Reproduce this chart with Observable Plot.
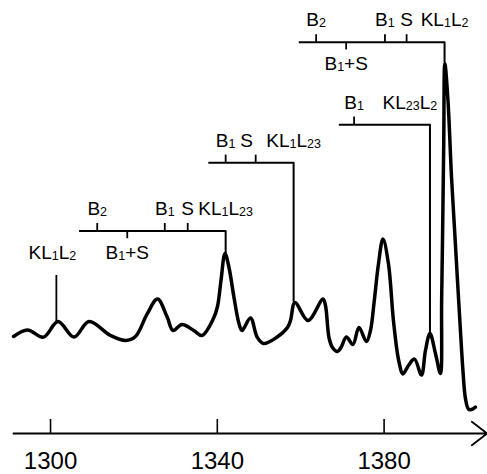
<!DOCTYPE html>
<html><head><meta charset="utf-8">
<script src="https://cdn.jsdelivr.net/npm/d3@7"></script>
<script src="https://cdn.jsdelivr.net/npm/@observablehq/plot@0.6"></script>
<style>
html,body{margin:0;padding:0;background:#fff;}
svg{display:block;}
</style>
</head><body>
<div id="chart"></div>
<script>
// Spectrum trace (x: position, y: intensity in arbitrary units)
const wavenumber = [1291.12,1294.47,1298.31,1301.79,1305.63,1309.22,1314.38,1317.98,1320.37,1323.18,1325.65,1327.98,1329.37,1331.53,1334.35,1336.32,1339.08,1340.04,1340.88,1341.84,1342.80,1344.00,1345.19,1345.91,1347.95,1349.56,1351.07,1354.19,1356.83,1357.55,1358.62,1361.74,1365.34,1365.94,1366.78,1367.62,1368.82,1369.65,1370.97,1372.53,1373.97,1375.77,1376.73,1377.57,1378.65,1379.73,1381.05,1382.24,1383.50,1384.52,1385.84,1387.28,1388.96,1389.92,1391.00,1392.32,1393.51,1393.80,1394.07,1394.31,1394.57,1395.32,1396.15,1396.87,1397.59,1398.31,1398.91,1399.51,1400.23,1400.95,1401.91];
const intensity  = [24.25,25.9,24.1,28.0,24.1,28.0,24.5,23.25,24.25,29.9,33.6,29.1,25.75,27.25,25.75,24.5,28.75,31.75,38.25,45.0,41.5,34.0,27.5,25.75,28.9,24.1,22.5,24.0,26.5,28.25,32.75,28.25,33.6,32.0,24.0,21.5,20.5,21.5,24.1,22.25,26.5,23.0,25.75,32.5,42.4,48.6,42.4,28.25,18.25,14.9,17.0,18.6,14.6,20.75,25.0,20.0,15.0,33.25,53.25,73.25,92.5,83.25,64.5,51.5,38.5,25.75,15.75,8.75,6.1,6.0,6.6];

// Axis
const xTicks = [1300, 1340, 1380];
const axisExtent = [1291.1, 1404.7];

// Main peaks with their satellite brackets
const peakNames     = ["KL₁L₂₃", "KL₁L₂₃", "KL₁L₂", "KL₂₃L₂"];
const peakPositions = [1342.0, 1358.3, 1394.5, 1391.0];
const peakHeights   = [45.0, 32.8, 92.75, 25.0];
const bracketLevels = [50.6, 67.7, 97.8, 77.2];
const bracketStarts = [1307.2, 1338.2, 1359.9, 1369.5];

// Satellite tick marks on the brackets
const satelliteNames     = ["B₂", "B₁+S", "B₁", "S", "B₁", "S", "B₂", "B₁+S", "B₁", "S", "B₁"];
const satellitePositions = [1311.2, 1318.4, 1327.4, 1332.9, 1342.0, 1349.2, 1363.7, 1370.9, 1380.2, 1385.4, 1372.8];
const satelliteBracket   = [0, 0, 0, 0, 1, 1, 2, 2, 2, 2, 3];
const satelliteBelow     = [false, true, false, false, false, false, false, true, false, false, false];

// Single labelled peak without bracket
const loneName = ["KL₁L₂"];
const lonePosition = [1301.4];
const loneTop = [39.5];
const loneHeight = [28.0];

const spectrum = wavenumber.map((x, i) => ({x, y: intensity[i]}));
const brackets = peakNames.map((name, i) => ({
  name, peak: peakPositions[i], height: peakHeights[i],
  level: bracketLevels[i], start: bracketStarts[i]
}));
const satellites = satelliteNames.map((name, i) => ({
  name, x: satellitePositions[i], level: bracketLevels[satelliteBracket[i]],
  below: satelliteBelow[i], bracket: satelliteBracket[i]
}));
const lone = loneName.map((name, i) => ({name, x: lonePosition[i], top: loneTop[i], height: loneHeight[i]}));

const FONT = "'Liberation Sans', Arial, Helvetica, sans-serif";
const TICK = 1.9;
const crowded = d => d.bracket === 1 && d.name === "S";

const svg = Plot.plot({
  width: 487,
  height: 474,
  marginLeft: 0,
  marginRight: 0,
  marginTop: 33,
  marginBottom: 41,
  style: {fontFamily: FONT, background: "#fff", color: "#000", overflow: "visible"},
  x: {domain: [1288, 1404.8], axis: null},
  y: {domain: [0, 100], axis: null},
  marks: [
    // axis line with arrow
    Plot.arrow([axisExtent], {x1: d => d[0], x2: d => d[1], y1: () => 0, y2: () => 0,
      stroke: "#000", strokeWidth: 1.8, headLength: 16, headAngle: 75}),
    Plot.ruleX(xTicks, {x: d => d, y1: () => 0, y2: () => 3.5, stroke: "#000", strokeWidth: 1.6}),
    Plot.text(xTicks, {x: d => d, y: () => -6.95, text: d => String(d), fontSize: 24,
      fill: "#000", lineAnchor: "middle", letterSpacing: "1.5px"}),
    // brackets
    Plot.ruleY(brackets, {y: "level", x1: "start", x2: "peak", stroke: "#000", strokeWidth: 2, strokeLinecap: "square"}),
    Plot.ruleX(brackets, {x: "peak", y1: "level", y2: "height", stroke: "#000", strokeWidth: 2}),
    Plot.ruleX(satellites, {x: "x", y1: "level", y2: d => d.below ? d.level - TICK : d.level + TICK, stroke: "#000", strokeWidth: 1.8}),
    Plot.ruleX(lone, {x: "x", y1: "top", y2: "height", stroke: "#000", strokeWidth: 1.8}),
    // spectrum
    Plot.line(spectrum, {x: "x", y: "y", curve: "catmull-rom", stroke: "#000", strokeWidth: 3.5, strokeLinejoin: "round", strokeLinecap: "round"}),
    // labels
    Plot.text(satellites.filter(d => !d.below && !crowded(d)), {x: "x", y: "level", text: "name", dy: -22, fontSize: 19, fill: "#000"}),
    Plot.text(satellites.filter(d => crowded(d)), {x: "x", y: "level", text: "name", dy: -22, dx: -9, fontSize: 19, fill: "#000"}),
    Plot.text(satellites.filter(d => d.below), {x: "x", y: "level", text: "name", dy: 22, fontSize: 19, fill: "#000"}),
    Plot.text(brackets.filter(d => d.name !== "KL₂₃L₂"), {x: "peak", y: "level", text: "name", dy: -22, fontSize: 19, fill: "#000"}),
    Plot.text(brackets.filter(d => d.name === "KL₂₃L₂"), {x: "peak", y: "level", text: "name", dy: -22, dx: -20, fontSize: 19, fill: "#000"}),
    Plot.text(lone, {x: "x", y: "top", text: "name", dy: -23, dx: -4, fontSize: 19, fill: "#000"})
  ]
});

// render unicode subscript digits as small baseline digits
const subs = {"₀":"0","₁":"1","₂":"2","₃":"3","₄":"4","₅":"5","₆":"6","₇":"7","₈":"8","₉":"9"};
d3.select(svg).selectAll("text").each(function() {
  const t = this.textContent;
  if (!/[₀-₉]/.test(t)) return;
  const el = d3.select(this);
  el.text(null);
  const runs = t.match(/[₀-₉]+|[^₀-₉]+/g);
  let shifted = false;
  for (const r of runs) {
    const isSub = /[₀-₉]/.test(r);
    const ts = el.append("tspan").text(isSub ? r.replace(/[₀-₉]/g, c => subs[c]) : r);
    if (isSub) { ts.attr("font-size", "12.5px"); if (!shifted) { ts.attr("dy", 1); shifted = true; } }
    else if (shifted) { ts.attr("dy", -1); shifted = false; }
  }
});

document.getElementById("chart").appendChild(svg);
</script>
</body></html>
